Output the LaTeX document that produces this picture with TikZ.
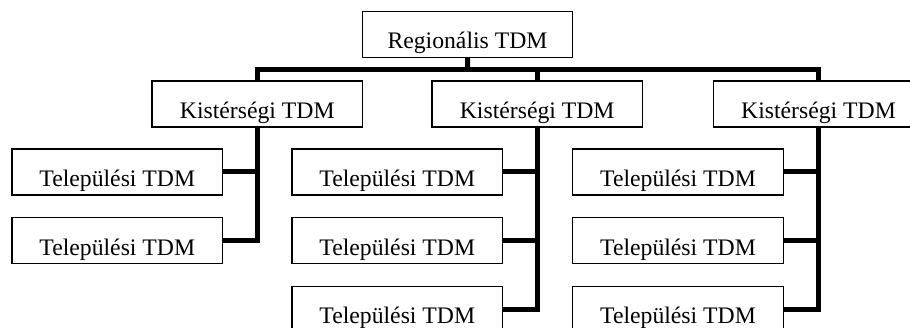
\documentclass[tikz,border=0pt]{standalone}
\usepackage{fontspec}
\setmainfont{Liberation Serif}
\begin{document}
\begin{tikzpicture}[x=1pt,y=-1pt,
  box/.style={draw=black, line width=1.4pt, fill=white, minimum width=210.5pt, minimum height=46pt, inner sep=0pt, text height=29.5pt, text depth=1pt, font=\fontsize{23.7}{28}\selectfont},
  conn/.style={draw=black, line width=5pt, line join=miter}]
\clip (0,0) rectangle (910,328);
\fill[white] (0,0) rectangle (910,328);
\node[box] (r) at (467.5,34.5) {Regionális TDM};
\node[box] (k1) at (257.3,104) {Kistérségi TDM};
\node[box] (k2) at (537.2,104) {Kistérségi TDM};
\node[box] (k3) at (818.5,104) {Kistérségi TDM};
\node[box] (a1) at (117.3,172) {Települési TDM};
\node[box] (a2) at (117.3,240.8) {Települési TDM};
\node[box] (b1) at (397.3,172) {Települési TDM};
\node[box] (b2) at (397.3,240.8) {Települési TDM};
\node[box] (b3) at (397.3,309.7) {Települési TDM};
\node[box] (c1) at (678,172) {Települési TDM};
\node[box] (c2) at (678,240.8) {Települési TDM};
\node[box] (c3) at (678,309.7) {Települési TDM};
\coordinate (bar) at (467.7,70);
\draw[conn] (r.south) -- (bar);
\draw[conn] (k1.north) |- (bar) -| (k3.north);
\draw[conn] (bar -| k2.north) -- (k2.north);
\draw[conn] (k1.south) |- (a2.east);
\draw[conn] (a1.east) -- (a1.east -| k1.south);
\draw[conn] (k2.south) |- (b3.east);
\draw[conn] (b1.east) -- (b1.east -| k2.south);
\draw[conn] (b2.east) -- (b2.east -| k2.south);
\draw[conn] (k3.south) |- (c3.east);
\draw[conn] (c1.east) -- (c1.east -| k3.south);
\draw[conn] (c2.east) -- (c2.east -| k3.south);
\end{tikzpicture}
\end{document}
